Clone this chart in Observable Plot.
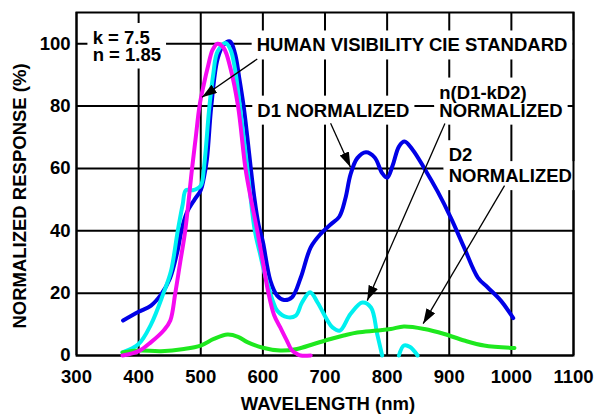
<!DOCTYPE html>
<html><head><meta charset="utf-8">
<script src="https://cdn.jsdelivr.net/npm/d3@7"></script>
<script src="https://cdn.jsdelivr.net/npm/@observablehq/plot@0.6"></script>
<style>body{margin:0;background:#fff}</style>
</head><body><div id="chart"></div>
<script>
const wavelengthTicks = [300, 400, 500, 600, 700, 800, 900, 1000, 1100];
const responseTicks = [0, 20, 40, 60, 80, 100];

// D1 NORMALIZED (blue)
const d1Nm  = [375, 400, 420, 436, 450, 462, 470, 478, 490, 500, 505, 510, 517, 527, 537, 547, 555, 562, 569, 575, 580, 586, 593, 600, 612, 623, 634, 647, 661, 677, 693, 709, 723, 733, 741, 752, 766, 780, 792, 800, 809, 819, 828, 841, 860, 881, 903, 924, 946, 962, 983, 1003];
const d1Pct = [11.2, 14, 16, 19.5, 24.5, 33, 41, 46, 50, 53, 57, 63, 80, 95, 99.7, 100.7, 97, 89, 80, 70, 61, 51, 42, 36.5, 24, 19.2, 17.8, 18.7, 25, 34.7, 39, 42, 44.5, 50.5, 58, 63.3, 65.2, 63.5, 58.5, 57, 61, 67, 68.6, 66, 60, 52.7, 44, 34.6, 25, 21.8, 17.6, 12];

// n(D1-kD2) NORMALIZED (cyan), gap where it is below zero
const dnNm  = [374, 400, 420, 440, 452, 463, 471, 476, 487, 500, 505, 514, 520, 527, 540, 548, 555, 563, 575, 587, 595, 602, 609, 616, 623, 639, 653, 663, 676, 688, 704, 712, 724, 741, 760, 774, 784, 792, 805, 819, 827, 837, 849];
const dnPct = [1, 3.7, 10, 20, 27, 40, 48.5, 53, 53, 54.5, 60, 80, 90, 97.5, 100.2, 98, 92, 80, 60, 40, 33, 27, 22, 17.5, 14.4, 12.3, 12.8, 17, 20.3, 17, 11.2, 9, 8, 13.3, 17, 15.4, 6.9, 0, null, 0, 3.2, 2.7, 0];

// D2 NORMALIZED (green)
const d2Nm  = [374, 400, 436, 473, 500, 521, 543, 560, 575, 600, 628, 655, 682, 709, 730, 752, 784, 806, 827, 860, 892, 924, 956, 1005];
const d2Pct = [1, 1.6, 1.4, 2.1, 3.2, 5.3, 6.7, 6, 4.3, 2.5, 1.6, 2.1, 3.7, 5.3, 6.4, 7.4, 8, 8.5, 9.3, 8.5, 6.9, 4.8, 3.2, 2.4];

// HUMAN VISIBILITY CIE STANDARD (magenta)
const cieNm  = [374, 400, 420, 441, 451, 459, 467, 475, 486, 492, 498, 505, 512, 519, 527, 537, 548, 560, 572, 581, 591, 600, 609, 618, 628, 638, 647, 655, 661, 677];
const ciePct = [0, 1.4, 4.3, 8.2, 11.2, 20, 30, 40, 60, 70, 80, 87, 93, 98, 100, 98.6, 92, 80, 60, 50, 40, 30, 20, 13, 9, 5, 1.6, 0.5, 0, 0];

// annotation labels (one text per line)
const labelText = ["HUMAN VISIBILITY CIE STANDARD", "D1 NORMALIZED", "n(D1-kD2)", "NORMALIZED", "D2", "NORMALIZED", "k = 7.5", "n = 1.85"];
const labelNm   = [590, 591, 884, 884, 899, 899, 326, 326];
const labelPct  = [99.4, 78.5, 84.3, 78.5, 64.2, 57.5, 101.8, 96.5];

const arrowFromNm  = [591, 709, 893, 989];
const arrowFromPct = [95.1, 74.5, 74.4, 54.5];
const arrowToNm    = [502, 741, 768, 858];
const arrowToPct   = [82.8, 60.4, 17.6, 10.2];

const xTitle = "WAVELENGTH (nm)";
const yTitle = "NORMALIZED RESPONSE (%)";

const series = (nm, pct) => nm.map((x, i) => ({x, y: pct[i]}));
const labels = labelText.map((t, i) => ({t, x: labelNm[i], y: labelPct[i]}));
const arrows = arrowFromNm.map((x1, i) => ({x1, y1: arrowFromPct[i], x2: arrowToNm[i], y2: arrowToPct[i]}));

const FS = 18.5;
const lineOpts = (color) => ({x: "x", y: "y", stroke: color, strokeWidth: 4, curve: "catmull-rom"});

const chart = Plot.plot({
  width: 597,
  height: 418,
  marginLeft: 76,
  marginRight: 24,
  marginTop: 12,
  marginBottom: 63,
  style: {fontFamily: "'Liberation Sans', Arial, sans-serif", fontSize: FS + "px", fontWeight: "bold", color: "black", background: "white"},
  x: {domain: [300, 1100], ticks: wavelengthTicks, tickSize: 0, tickPadding: 14, tickFormat: d => String(d), label: null},
  y: {domain: [0, 110], ticks: responseTicks, tickSize: 0, tickPadding: 6, tickFormat: d => String(d), label: null},
  marks: [
    Plot.ruleX(wavelengthTicks, {stroke: "black", strokeWidth: 2}),
    Plot.ruleY(responseTicks, {stroke: "black", strokeWidth: 2}),
    Plot.text(labels, {x: "x", y: "y", text: "t", textAnchor: "start", lineAnchor: "middle", fill: "black", fontSize: FS, fontWeight: "bold"}),
    Plot.frame({stroke: "black", strokeWidth: 2}),
    Plot.line(series(d1Nm, d1Pct), lineOpts("#0000e6")),
    Plot.line(series(dnNm, dnPct), lineOpts("#00f0f0")),
    Plot.line(series(d2Nm, d2Pct), lineOpts("#1ee81e")),
    Plot.line(series(cieNm, ciePct), lineOpts("#f50af0")),
    Plot.link(arrows, {x1: "x1", y1: "y1", x2: "x2", y2: "y2", stroke: "black", strokeWidth: 1.3}),
    Plot.text([xTitle], {frameAnchor: "bottom", textAnchor: "middle", lineAnchor: "middle", dx: 3, dy: 49, fontSize: FS, fontWeight: "bold"}),
    Plot.text([yTitle], {frameAnchor: "left", textAnchor: "middle", lineAnchor: "middle", dx: -56, dy: 12, rotate: -90, fontSize: FS, fontWeight: "bold"})
  ]
});

document.getElementById("chart").appendChild(chart);

const svg = d3.select(chart);
const defs = svg.insert("defs", ":first-child");
defs.append("marker")
  .attr("id", "ahead")
  .attr("markerUnits", "userSpaceOnUse")
  .attr("markerWidth", 16).attr("markerHeight", 11)
  .attr("refX", 15).attr("refY", 5)
  .attr("orient", "auto")
  .append("path").attr("d", "M0,0L15,5L0,10Z").attr("fill", "black");
svg.selectAll('g[aria-label="link"] path').attr("marker-end", "url(#ahead)");

// white boxes behind the annotation texts (break the grid like the original)
const padX = 5, padY = 4;
const labelSet = new Set(labelText);
const annTexts = svg.selectAll("text").nodes().filter((t) => labelSet.has(t.textContent));
if (annTexts.length) {
  const parent = annTexts[0].parentNode;
  const first = annTexts[0];
  annTexts.forEach((t) => {
    const b = t.getBBox();
    const r = document.createElementNS("http://www.w3.org/2000/svg", "rect");
    r.setAttribute("x", b.x - padX);
    r.setAttribute("y", b.y - padY);
    r.setAttribute("width", b.width + 2 * padX);
    r.setAttribute("height", b.height + 2 * padY);
    r.setAttribute("fill", "white");
    const tr = t.getAttribute("transform");
    if (tr) r.setAttribute("transform", tr);
    t.parentNode.insertBefore(r, t.parentNode === parent ? first : t);
  });
}
</script>
</body></html>
